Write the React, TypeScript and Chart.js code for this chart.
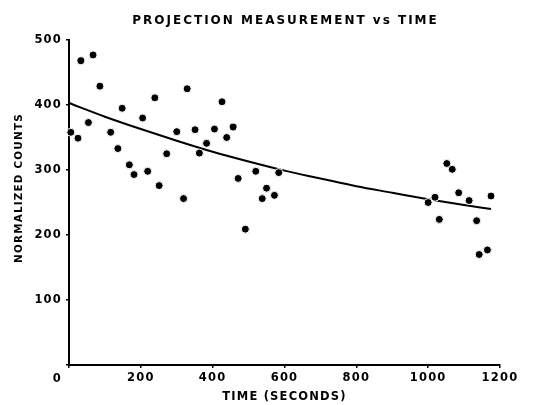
import React, { useEffect, useRef } from 'react';
import { Chart, registerables } from 'chart.js';

Chart.register(...registerables);

const CHART_TITLE = 'PROJECTION MEASUREMENT vs TIME';
const X_TITLE = 'TIME (SECONDS)';
const Y_TITLE = 'NORMALIZED COUNTS';

const xTickValues = [0, 200, 400, 600, 800, 1000, 1200];
const yTickValues = [0, 100, 200, 300, 400, 500];

const timeSeconds = [
  5, 25, 33, 54, 67, 86, 116, 136, 148, 168, 181, 205, 219, 239, 251, 272, 300,
  319, 329, 351, 363, 383, 405, 426, 439, 457, 471, 491, 520, 538, 550, 572, 584,
  1000, 1019, 1031, 1052, 1067, 1085, 1114, 1135, 1142, 1165, 1175,
];
const normalizedCounts = [
  358, 349, 468, 373, 477, 429, 358, 333, 395, 308, 293, 380, 298, 411, 276, 325, 359,
  256, 425, 362, 326, 341, 363, 405, 350, 366, 287, 209, 298, 256, 272, 261, 296,
  250, 258, 224, 310, 301, 265, 253, 222, 170, 177, 260,
];

const fitTime = [0, 100, 200, 300, 400, 500, 600, 700, 800, 900, 1000, 1100, 1175];
const fitCounts = [403, 382, 363, 345, 328, 313, 299, 287, 275, 265, 255, 246, 240];

const FONT_FAMILY = '"DejaVu Sans", sans-serif';

const textPlugin = {
  id: 'refText',
  beforeDraw(chart: any) {
    (chart.ctx as any).letterSpacing = '1.2px';
  },
  afterDraw(chart: any) {
    const { ctx, chartArea } = chart;
    ctx.save();
    (ctx as any).letterSpacing = '2px';
    ctx.font = `bold 12px ${FONT_FAMILY}`;
    ctx.fillStyle = '#000';
    ctx.textAlign = 'center';
    ctx.textBaseline = 'middle';
    ctx.fillText(CHART_TITLE, (chartArea.left + chartArea.right) / 2 + 1, 20.5);
    ctx.restore();
  },
};

export default function App() {
  const canvasRef = useRef<HTMLCanvasElement | null>(null);

  useEffect(() => {
    const canvas = canvasRef.current;
    if (!canvas) return;
    const points = timeSeconds.map((x, i) => ({ x, y: normalizedCounts[i] }));
    const fit = fitTime.map((x, i) => ({ x, y: fitCounts[i] }));

    const chart = new Chart(canvas, {
      type: 'scatter',
      data: {
        datasets: [
          {
            type: 'line',
            label: 'Fit',
            data: fit,
            borderColor: '#000',
            borderWidth: 2,
            pointRadius: 0,
            cubicInterpolationMode: 'monotone',
            fill: false,
            order: 2,
            clip: false,
          } as any,
          {
            label: 'Measurements',
            data: points,
            backgroundColor: '#000',
            borderColor: '#fff',
            borderWidth: 1,
            pointRadius: 4,
            order: 1,
            clip: false,
          } as any,
        ],
      },
      options: {
        animation: false,
        responsive: true,
        maintainAspectRatio: false,
        layout: { padding: { top: 40, right: 39, left: 0, bottom: 0 } },
        plugins: {
          legend: { display: false },
          title: { display: false },
          tooltip: { enabled: false },
        },
        scales: {
          x: {
            type: 'linear',
            min: 0,
            max: 1200,
            afterBuildTicks: (scale: any) => {
              scale.ticks = xTickValues.map((v) => ({ value: v }));
            },
            afterFit: (scale: any) => {
              scale.height = 40;
            },
            border: { display: true, color: '#000', width: 2 },
            grid: {
              display: true,
              drawOnChartArea: false,
              drawTicks: true,
              tickLength: 3,
              color: '#000',
              lineWidth: 1.5,
            },
            ticks: {
              color: '#000',
              padding: 3,
              maxRotation: 0,
              font: { family: FONT_FAMILY, size: 11.5, weight: 'bold' },
              callback: (v: any) => (Number(v) === 0 ? '' : String(v)),
            },
            title: {
              display: true,
              text: X_TITLE,
              color: '#000',
              font: { family: FONT_FAMILY, size: 11.5, weight: 'bold' },
              padding: { top: 0, bottom: 1 },
            },
          },
          y: {
            type: 'linear',
            min: 0,
            max: 500,
            afterBuildTicks: (scale: any) => {
              scale.ticks = yTickValues.map((v) => ({ value: v }));
            },
            afterFit: (scale: any) => {
              scale.width = 69;
            },
            border: { display: true, color: '#000', width: 2 },
            grid: {
              display: true,
              drawOnChartArea: false,
              drawTicks: true,
              tickLength: 3,
              color: '#000',
              lineWidth: 1.5,
            },
            ticks: {
              color: '#000',
              padding: 4,
              font: { family: FONT_FAMILY, size: 11.5, weight: 'bold' },
              callback: (v: any) => (Number(v) === 0 ? ['', '', '0'] : String(v)),
            },
            title: {
              display: true,
              text: '      ' + Y_TITLE,
              color: '#000',
              font: { family: FONT_FAMILY, size: 10.4, weight: 'bold' },
              padding: { top: 13.5, bottom: 0 },
            },
          },
        },
      } as any,
      plugins: [textPlugin as any],
    });

    return () => {
      chart.destroy();
    };
  }, []);

  return (
    <div style={{ position: 'fixed', left: 0, top: 0, width: 539, height: 405, background: '#fff' }}>
      <canvas ref={canvasRef} />
    </div>
  );
}
